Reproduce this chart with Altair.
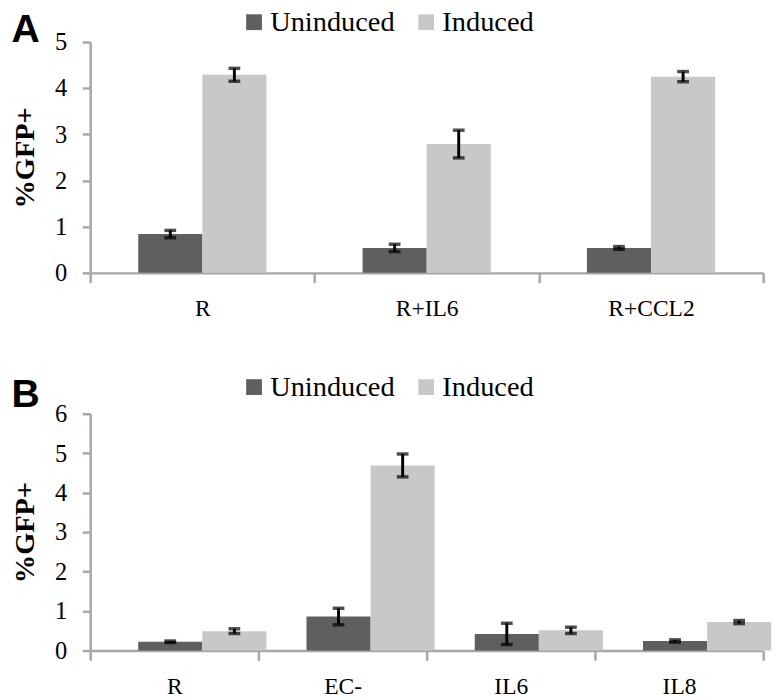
import altair as alt
import pandas as pd

# ---- data ----
series = ["Uninduced", "Induced"]
colors = ["#5f5f5f", "#c8c8c8"]

a_categories = ["R", "R+IL6", "R+CCL2"]
a_uninduced = [0.84, 0.54, 0.54]
a_uninduced_err = [0.08, 0.08, 0.03]
a_induced = [4.29, 2.79, 4.25]
a_induced_err = [0.14, 0.30, 0.11]

b_categories = ["R", "EC-", "IL6", "IL8"]
b_uninduced = [0.22, 0.86, 0.42, 0.24]
b_uninduced_err = [0.02, 0.21, 0.27, 0.03]
b_induced = [0.49, 4.69, 0.51, 0.72]
b_induced_err = [0.06, 0.29, 0.08, 0.04]


def frame(cats, unind, unind_err, ind, ind_err):
    rows = []
    for c, v, e in zip(cats, unind, unind_err):
        rows.append({"category": c, "series": "Uninduced", "value": v, "lo": v - e, "hi": v + e})
    for c, v, e in zip(cats, ind, ind_err):
        rows.append({"category": c, "series": "Induced", "value": v, "lo": v - e, "hi": v + e})
    return pd.DataFrame(rows)


AXIS_GRAY = "#a6a6a6"
SERIF = "Liberation Serif"


def panel(df, cats, ymax, width, height, letter, legend_y, title_offset):
    x = alt.X(
        "category:N",
        sort=cats,
        scale=alt.Scale(paddingInner=0, paddingOuter=0),
        axis=alt.Axis(
            title=None, tickBand="extent", labelAngle=0, labelFont=SERIF,
            labelFontSize=24, labelColor="black", labelPadding=15,
            tickSize=10, tickWidth=2.5, tickColor=AXIS_GRAY,
            domainColor=AXIS_GRAY, domainWidth=2.5,
        ),
    )
    xo = alt.XOffset(
        "series:N", sort=series,
        scale=alt.Scale(domain=series, paddingOuter=0.75, paddingInner=0),
    )
    y_scale = alt.Scale(domain=[0, ymax], nice=False)
    y_axis = alt.Axis(
        values=list(range(ymax + 1)), grid=False, title="%GFP+",
        titleFont=SERIF, titleFontSize=29, titleFontWeight="bold",
        titleColor="black", titlePadding=15,
        labelFont=SERIF, labelFontSize=25, labelColor="black",
        labelPadding=16, tickSize=8, tickWidth=2.5, tickColor=AXIS_GRAY,
        domainColor=AXIS_GRAY, domainWidth=2.5,
    )
    color = alt.Color(
        "series:N", sort=series,
        scale=alt.Scale(domain=series, range=colors),
        legend=alt.Legend(
            title=None, orient="none", legendX=153, legendY=legend_y,
            direction="horizontal", symbolType="square", symbolSize=260,
            symbolStrokeWidth=0, labelFont=SERIF, labelFontSize=29,
            labelColor="black", labelOffset=2, columnPadding=17, padding=0,
        ),
    )
    base = alt.Chart(df)
    bars = base.mark_bar().encode(
        x=x, xOffset=xo, y=alt.Y("value:Q", scale=y_scale, axis=y_axis), color=color
    )
    err = base.mark_rule(color="black", strokeWidth=3).encode(
        x=x, xOffset=xo, y=alt.Y("lo:Q", scale=y_scale, axis=y_axis), y2="hi:Q"
    )
    cap_lo = base.mark_tick(color="black", thickness=3.5, size=12).encode(
        x=x, xOffset=xo, y=alt.Y("lo:Q", scale=y_scale, axis=y_axis)
    )
    cap_hi = base.mark_tick(color="black", thickness=3.5, size=12).encode(
        x=x, xOffset=xo, y=alt.Y("hi:Q", scale=y_scale, axis=y_axis)
    )
    return alt.layer(bars, err, cap_lo, cap_hi).properties(
        width=width, height=height,
        title=alt.TitleParams(
            letter, anchor="start", frame="bounds", font="Liberation Sans",
            fontSize=40, fontWeight="bold", color="black", offset=title_offset,
        ),
    )


dfa = frame(a_categories, a_uninduced, a_uninduced_err, a_induced, a_induced_err)
dfb = frame(b_categories, b_uninduced, b_uninduced_err, b_induced, b_induced_err)

pa = panel(dfa, a_categories, 5, 688, 236, "A", -35, -43)
pb = panel(dfb, b_categories, 6, 688, 242, "B", -42, -43)

chart = (
    alt.vconcat(pa, pb, spacing=53)
    .resolve_scale(x="independent", y="independent", color="independent")
    .resolve_legend(color="independent")
    .properties(padding={"left": 3, "top": -8, "right": 0, "bottom": 0})
    .configure_view(stroke=None)
)

chart.save("out.html", embed_options={"renderer": "svg", "actions": False})
